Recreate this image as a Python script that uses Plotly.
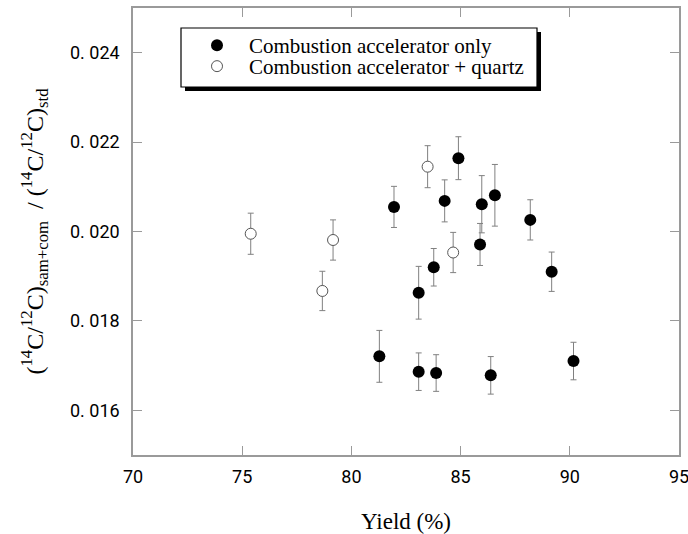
import plotly.graph_objects as go

# ---- data ----
only_x = [81.95, 84.9, 84.27, 85.97, 86.57, 88.19, 85.89, 83.77, 83.08, 89.17, 81.28, 83.08, 83.88, 86.38, 90.17]
only_y = [0.02055, 0.02164, 0.020685, 0.02061, 0.02081, 0.02026, 0.01971, 0.01920, 0.01863, 0.01910, 0.017207, 0.016864, 0.016834, 0.016782, 0.017102]
only_err = [0.00046, 0.00048, 0.00047, 0.00064, 0.00069, 0.00045, 0.00047, 0.00042, 0.00059, 0.00044, 0.00058, 0.00042, 0.00041, 0.00042, 0.00042]

quartz_x = [75.39, 79.16, 78.67, 83.49, 84.66]
quartz_y = [0.01995, 0.01981, 0.01867, 0.02145, 0.01953]
quartz_err = [0.00046, 0.00045, 0.00044, 0.00047, 0.00045]

y_tickvals = [0.016, 0.018, 0.020, 0.022, 0.024]
y_ticktext = ["0. 016", "0. 018", "0. 020", "0. 022", "0. 024"]
x_tickvals = [70, 75, 80, 85, 90, 95]
x_ticktext = ["70", "75", "80", "85", "90", "95"]

# ---- layout constants (pixels) ----
W, H = 688, 534
L, R, T, B = 133, 9, 8, 79
PW, PH = W - L - R, H - T - B

def px(xp):
    return (xp - L) / PW

def py(yp):
    return (H - B - yp) / PH

SERIF = "Liberation Serif, Times New Roman, serif"
NARROW = "Roboto, DejaVu Sans Condensed, sans-serif"
AXC = "#9a9a9a"

fig = go.Figure()
fig.add_trace(go.Scatter(
    x=only_x, y=only_y, mode="markers", name="Combustion accelerator only",
    marker=dict(symbol="circle", size=12, color="black", line=dict(width=0)),
    error_y=dict(type="data", array=only_err, visible=True, color="#808080", thickness=1, width=3),
    legend="legend",
))
fig.add_trace(go.Scatter(
    x=quartz_x, y=quartz_y, mode="markers", name="Combustion accelerator + quartz",
    marker=dict(symbol="circle", size=11, color="white", line=dict(width=1, color="#555555")),
    error_y=dict(type="data", array=quartz_err, visible=True, color="#808080", thickness=1, width=3),
    legend="legend2",
))

# legend box with shadow
fig.add_shape(type="rect", xref="paper", yref="paper",
              x0=px(185), x1=px(541), y0=py(91), y1=py(32),
              fillcolor="black", line=dict(width=0), layer="above")
fig.add_shape(type="rect", xref="paper", yref="paper",
              x0=px(181), x1=px(537), y0=py(87), y1=py(28),
              fillcolor="white", line=dict(width=1.2, color="black"), layer="above")

leg_common = dict(bgcolor="rgba(0,0,0,0)", borderwidth=0, itemwidth=54,
                  font=dict(family=SERIF, size=21, color="black"),
                  xanchor="left", yanchor="middle")

fig.update_layout(
    template="none",
    width=W, height=H,
    margin=dict(l=L, r=R, t=T, b=B, pad=0, autoexpand=False),
    paper_bgcolor="white", plot_bgcolor="white",
    showlegend=True,
    legend=dict(x=px(185), y=py(45.5), **leg_common),
    legend2=dict(x=px(185), y=py(66.5), **leg_common),
    xaxis=dict(
        range=[70, 95], tickvals=x_tickvals, ticktext=x_ticktext,
        showgrid=False, zeroline=False, automargin=False,
        showline=True, linecolor=AXC, linewidth=1.5, mirror="ticks",
        ticks="inside", ticklen=9, tickcolor=AXC, tickwidth=1,
        tickfont=dict(family=NARROW, size=18, color="black"),
        ticklabelstandoff=5, ticklabeloverflow="allow",
        title=dict(text="Yield (%)", font=dict(family=SERIF, size=23, color="black"), standoff=30),
    ),
    yaxis=dict(
        range=[0.015, 0.025], tickvals=y_tickvals, ticktext=y_ticktext,
        showgrid=False, zeroline=False, automargin=False,
        showline=True, linecolor=AXC, linewidth=1.5, mirror="ticks",
        ticks="inside", ticklen=9, tickcolor=AXC, tickwidth=1,
        tickfont=dict(family=NARROW, size=18, color="black"),
        ticklabelstandoff=8, ticklabeloverflow="allow",
        title=dict(text="(<sup>14</sup>C/<sup>12</sup>C)<sub>sam+com</sub>  / (<sup>14</sup>C/<sup>12</sup>C)<sub>std</sub>",
                   font=dict(family=SERIF, size=24, color="black"), standoff=20),
    ),
)

fig.write_html("out.html", config={"displayModeBar": False},
               post_script="document.body.style.margin='0px';document.body.style.overflow='hidden';")
